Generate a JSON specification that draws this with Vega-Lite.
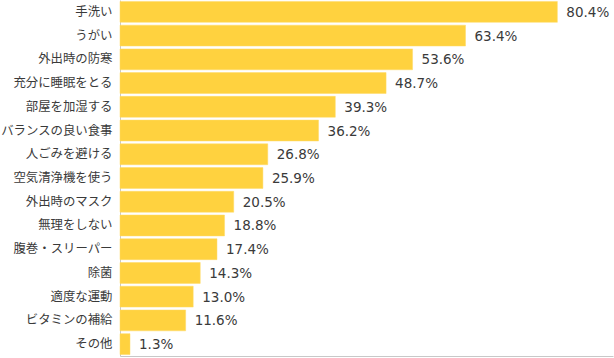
{
  "$schema": "https://vega.github.io/schema/vega-lite/v6.json",
  "width": 493,
  "height": 356,
  "autosize": {"type": "none"},
  "padding": {"left": 120, "top": 0, "right": 1, "bottom": 2},
  "background": "white",
  "config": {"view": {"stroke": null}},
  "data": {
    "values": [
      {"item": "手洗い", "pct": 80.4},
      {"item": "うがい", "pct": 63.4},
      {"item": "外出時の防寒", "pct": 53.6},
      {"item": "充分に睡眠をとる", "pct": 48.7},
      {"item": "部屋を加湿する", "pct": 39.3},
      {"item": "バランスの良い食事", "pct": 36.2},
      {"item": "人ごみを避ける", "pct": 26.8},
      {"item": "空気清浄機を使う", "pct": 25.9},
      {"item": "外出時のマスク", "pct": 20.5},
      {"item": "無理をしない", "pct": 18.8},
      {"item": "腹巻・スリーパー", "pct": 17.4},
      {"item": "除菌", "pct": 14.3},
      {"item": "適度な運動", "pct": 13.0},
      {"item": "ビタミンの補給", "pct": 11.6},
      {"item": "その他", "pct": 1.3}
    ]
  },
  "transform": [
    {"calculate": "format(datum.pct, '.1f') + '%'", "as": "label"}
  ],
  "encoding": {
    "y": {
      "field": "item",
      "type": "nominal",
      "sort": null,
      "scale": {"paddingInner": 0.12, "paddingOuter": 0.06},
      "axis": {
        "title": null,
        "ticks": false,
        "domain": true,
        "domainColor": "#c8c8c8",
        "domainWidth": 1,
        "labelPadding": 8,
        "labelFont": "Noto Sans CJK JP",
        "labelFontSize": 12.4,
        "labelColor": "#3a3a3a",
        "labelLimit": 200
      }
    }
  },
  "layer": [
    {
      "mark": {"type": "bar", "color": "#FFD23F", "stroke": "#FFDB66", "strokeWidth": 0.5},
      "encoding": {
        "x": {
          "field": "pct",
          "type": "quantitative",
          "scale": {"domain": [-0.55, 90.7], "zero": false, "nice": false},
          "axis": {
            "title": null,
            "labels": false,
            "ticks": false,
            "grid": false,
            "domain": true,
            "domainColor": "#c8c8c8",
            "domainWidth": 1
          }
        },
        "x2": {"datum": -0.55}
      }
    },
    {
      "mark": {"type": "text", "align": "left", "baseline": "middle", "dx": 9, "dy": 1, "font": "DejaVu Sans", "fontSize": 13.5, "color": "#3a3a3a"},
      "encoding": {
        "x": {"field": "pct", "type": "quantitative"},
        "text": {"field": "label", "type": "nominal"}
      }
    }
  ]
}
